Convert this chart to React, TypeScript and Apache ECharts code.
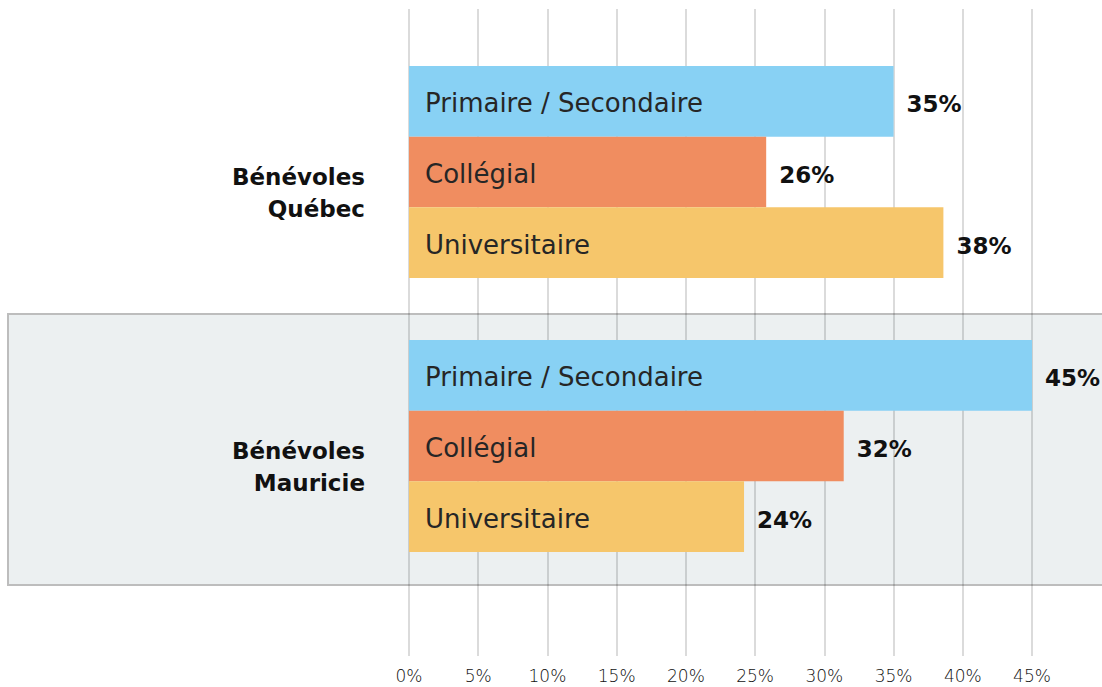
import React, { useEffect, useRef } from "react";
import * as echarts from "echarts";

const categories = ["Bénévoles\nQuébec", "Bénévoles\nMauricie"];
const seriesNames = ["Primaire / Secondaire", "Collégial", "Universitaire"];
const primaire = [35, 45];
const collegial = [25.8, 31.4];
const universitaire = [38.6, 24.2];
const primaireLabels = ["35%", "45%"];
const collegialLabels = ["26%", "32%"];
const universitaireLabels = ["38%", "24%"];
const colors = ["#88d1f4", "#f08d60", "#f6c66b"];
const xMax = 45;
const xStep = 5;

const FONT = "'DejaVu Sans', 'Open Sans', sans-serif";

export default function App() {
  const ref = useRef<HTMLDivElement>(null);
  useEffect(() => {
    if (!ref.current) return;
    const chart = echarts.init(ref.current, null, { renderer: "svg" });
    const values = [primaire, collegial, universitaire];
    const labels = [primaireLabels, collegialLabels, universitaireLabels];
    const series: any[] = [];
    values.forEach((vals, i) => {
      series.push({
        type: "bar",
        name: seriesNames[i],
        xAxisIndex: 1,
        yAxisIndex: 1,
        stack: "s" + i,
        data: vals,
        barGap: 0,
        barCategoryGap: "22.6%",
        itemStyle: { color: colors[i] },
        label: {
          show: true,
          position: "insideLeft",
          distance: 16,
          offset: [0, 2],
          formatter: seriesNames[i],
          color: "#262626",
          fontFamily: FONT,
          fontSize: 26,
          fontWeight: 400,
        },
      });
    });
    values.forEach((vals, i) => {
      series.push({
        type: "bar",
        name: seriesNames[i] + " valeur",
        xAxisIndex: 1,
        yAxisIndex: 1,
        stack: "s" + i,
        data: vals.map(() => 0),
        barGap: 0,
        barCategoryGap: "22.6%",
        itemStyle: { color: "transparent" },
        label: {
          show: true,
          position: "right",
          distance: 13,
          offset: [0, 3],
          formatter: (p: any) => labels[i][p.dataIndex],
          color: "#111111",
          fontFamily: FONT,
          fontSize: 23,
          fontWeight: 600,
        },
      });
    });
    chart.setOption({
      animation: false,
      backgroundColor: "#ffffff",
      graphic: [
        {
          type: "rect",
          z: -10,
          shape: { x: 8, y: 314, width: 1100, height: 271 },
          style: { fill: "#ecf0f1", stroke: "#bdbdbd", lineWidth: 2 },
        },
      ],
      grid: [
        { left: 409, width: 623, top: 9, bottom: 31 },
        { left: 409, width: 623, top: 35, height: 548 },
      ],
      xAxis: [
        {
          gridIndex: 0,
          type: "value",
          min: 0,
          max: xMax,
          interval: xStep,
          axisLine: { show: false },
          axisTick: { show: false },
          splitLine: { show: true, lineStyle: { color: "rgba(0,0,0,0.14)", width: 2 } },
          axisLabel: {
            margin: 11,
            color: "#111111",
            fontFamily: FONT,
            fontSize: 17,
            fontWeight: 200,
            formatter: (v: number) => v + "%",
          },
        },
        {
          gridIndex: 1,
          type: "value",
          min: 0,
          max: xMax,
          show: false,
        },
      ],
      yAxis: [
        { gridIndex: 0, type: "value", show: false },
        {
          gridIndex: 1,
          type: "category",
          inverse: true,
          data: categories,
          axisLine: { show: false },
          axisTick: { show: false },
          splitLine: { show: false },
          axisLabel: {
            margin: 44,
            formatter: (v: string) =>
              "{gap|}\n" + v.split("\n").map((s) => "{t|" + s + "}").join("\n"),
            rich: {
              gap: { height: 42, lineHeight: 42 },
              t: {
                color: "#111111",
                fontFamily: FONT,
                fontSize: 23,
                fontWeight: 600,
                lineHeight: 32,
                align: "right",
              },
            },
          },
        },
      ],
      series,
    });
    return () => chart.dispose();
  }, []);
  return (
    <div
      ref={ref}
      style={{ position: "fixed", left: 0, top: 0, width: 1102, height: 687 }}
    />
  );
}
